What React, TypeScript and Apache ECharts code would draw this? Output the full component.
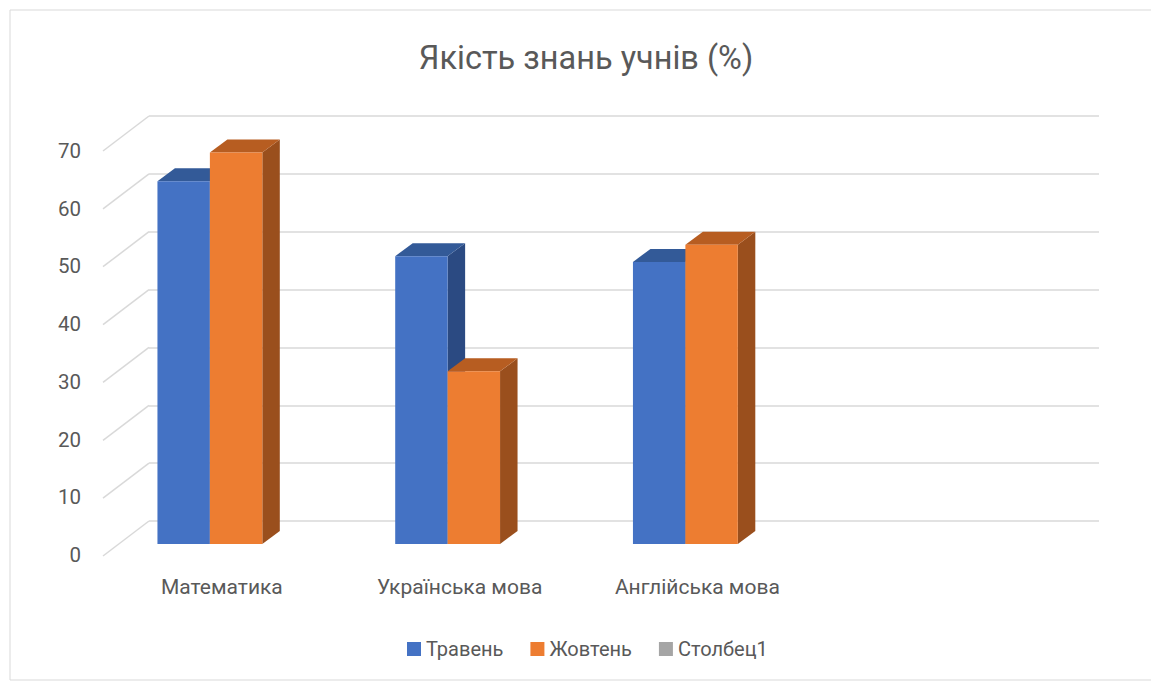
import React, { useEffect, useRef } from "react";
import * as echarts from "echarts";

const categories = ["Математика", "Українська мова", "Англійська мова", ""];
const seriesNames = ["Травень", "Жовтень", "Столбец1"];
const mayValues = [63, 50, 49];
const octoberValues = [68, 30, 52];
const column1Values: number[] = [];
const yTicks = [0, 10, 20, 30, 40, 50, 60, 70];
const titleText = "Якість знань учнів (%)";

const FONT = "Roboto, 'Noto Sans', sans-serif";
const TEXT = "#595959";
const GRID = "#D9D9D9";

const palettes = [
  { front: "#4472C4", top: "#335A98", side: "#2B4A82" },
  { front: "#ED7D31", top: "#B75D21", side: "#9A4F1D" },
  { front: "#A5A5A5", top: "#878787", side: "#747474" },
];

const DX = 17.5;
const DY = 13;

function makeBarRender(s: number) {
  return (params: any, api: any) => {
    const idx = api.value(0);
    const v = api.value(1);
    const base = api.coord([idx, 0]);
    const top = api.coord([idx, v]);
    const band = api.size([1, 0])[0];
    const bw = band * 0.2205;
    const left = base[0] - bw + s * bw;
    const right = left + bw;
    const p = palettes[s];
    return {
      type: "group",
      children: [
        {
          type: "polygon",
          shape: {
            points: [
              [right, top[1]],
              [right + DX, top[1] - DY],
              [right + DX, base[1] - DY],
              [right, base[1]],
            ],
          },
          style: { fill: p.side },
        },
        {
          type: "polygon",
          shape: {
            points: [
              [left, top[1]],
              [right, top[1]],
              [right + DX, top[1] - DY],
              [left + DX, top[1] - DY],
            ],
          },
          style: { fill: p.top },
        },
        {
          type: "rect",
          shape: { x: left, y: top[1], width: bw, height: base[1] - top[1] },
          style: { fill: p.front },
        },
      ],
    };
  };
}

export default function App() {
  const ref = useRef<HTMLDivElement>(null);
  useEffect(() => {
    if (!ref.current) return;
    const chart = echarts.init(ref.current, null, { renderer: "svg" });
    const seriesData = [mayValues, octoberValues, column1Values];
    const option: any = {
      animation: false,
      backgroundColor: "#ffffff",
      textStyle: { fontFamily: FONT },
      graphic: [
        {
          type: "rect",
          shape: { x: 10, y: 10, width: 1145, height: 670 },
          style: { fill: "none", stroke: GRID, lineWidth: 1 },
          silent: true,
          z: -10,
        },
        {
          type: "text",
          x: 586,
          y: 58,
          style: {
            text: titleText,
            fontFamily: FONT,
            fontSize: 32.5,
            fill: TEXT,
            textAlign: "center",
            textVerticalAlign: "middle",
          },
        },
      ],
      legend: {
        left: 402,
        top: 634,
        itemWidth: 14,
        itemHeight: 14,
        itemGap: 27,
        icon: "rect",
        textStyle: { fontFamily: FONT, fontSize: 20, color: TEXT },
        data: seriesNames.map((n, i) => ({ name: n, itemStyle: { color: palettes[i].front } })),
      },
      grid: [
        { left: 149, right: 52, top: 116, bottom: 161 },
        { left: 91, right: 109, top: 141, bottom: 138 },
        { left: 103, right: 100, top: 151, bottom: 127 },
        { left: 103, right: 97, top: 141, bottom: 138 },
      ],
      xAxis: [
        { gridIndex: 0, type: "value", min: 0, max: 1, show: false },
        { gridIndex: 1, type: "category", data: categories, show: false },
        { gridIndex: 2, type: "value", min: 0, max: 1, show: false },
        {
          gridIndex: 3,
          type: "category",
          data: categories,
          axisLine: { show: false },
          axisTick: { show: false },
          splitLine: { show: false },
          axisLabel: { margin: 32, fontSize: 21, color: TEXT, fontFamily: FONT, interval: 0 },
        },
      ],
      yAxis: [
        {
          gridIndex: 0,
          type: "value",
          min: 0,
          max: 70,
          interval: 10,
          axisLabel: { show: false },
          axisLine: { show: false },
          axisTick: { show: false },
          splitLine: { show: true, lineStyle: { color: GRID, width: 1.5 } },
        },
        { gridIndex: 1, type: "value", min: 0, max: 70, show: false, splitLine: { show: false } },
        {
          gridIndex: 2,
          type: "value",
          min: 0,
          max: 70,
          interval: 10,
          axisLine: { show: false },
          axisTick: { show: false },
          splitLine: { show: false },
          axisLabel: { margin: 22, fontSize: 20.5, color: TEXT, fontFamily: FONT },
        },
        { gridIndex: 3, type: "value", min: 0, max: 70, show: false, splitLine: { show: false } },
      ],
      series: [
        {
          type: "custom",
          name: "diagonals",
          xAxisIndex: 0,
          yAxisIndex: 0,
          silent: true,
          z: 1,
          data: yTicks.map((v) => [0, v]),
          renderItem: (params: any, api: any) => {
            const p = api.coord([0, api.value(1)]);
            return {
              type: "line",
              shape: { x1: p[0], y1: p[1], x2: p[0] - 46, y2: p[1] + 35 },
              style: { stroke: GRID, lineWidth: 1.5 },
            };
          },
        },
        ...seriesNames.map((name, s) => ({
          type: "custom",
          name,
          xAxisIndex: 1,
          yAxisIndex: 1,
          z: 3 + s,
          itemStyle: { color: palettes[s].front },
          data: seriesData[s].map((v, i) => [i, v]),
          encode: { x: 0, y: 1 },
          renderItem: makeBarRender(s),
        })),
      ],
    };
    chart.setOption(option);
    return () => chart.dispose();
  }, []);
  return (
    <div
      ref={ref}
      style={{ position: "fixed", left: 0, top: 0, width: 1151, height: 682 }}
    />
  );
}
